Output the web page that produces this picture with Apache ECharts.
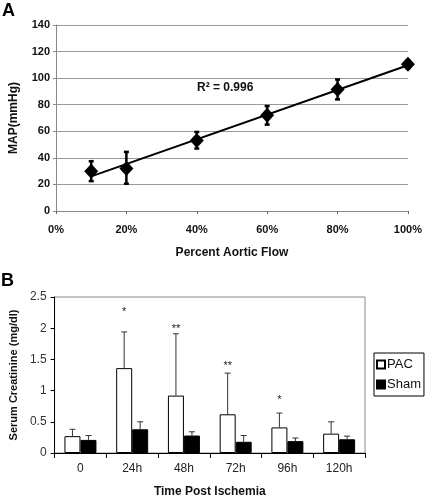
<!DOCTYPE html>
<html><head><meta charset="utf-8">
<script src="https://cdn.jsdelivr.net/npm/echarts@6/dist/echarts.min.js"></script>
<style>html,body{margin:0;padding:0;background:#fff}#c{width:425px;height:499px}</style>
</head><body><div id="c"></div>
<script>
// Panel A data
const aFlow = [10, 20, 40, 60, 80, 100];
const aMap = [30, 32, 53, 72, 91.5, 110.5];
const aErrLow = [22.5, 20.5, 47, 65, 84, 107.5];
const aErrHigh = [37.5, 44.5, 59.5, 79, 99, 113.5];
const aTrend = [[10, 26.1], [100, 109.7]];
const aR2 = 'R² = 0.996';
// Panel B data
const bCats = ['0', '24h', '48h', '72h', '96h', '120h'];
const bPac = [0.27, 1.36, 0.92, 0.62, 0.41, 0.31];
const bPacErr = [0.38, 1.94, 1.91, 1.28, 0.64, 0.50];
const bSham = [0.21, 0.38, 0.28, 0.18, 0.19, 0.22];
const bShamErr = [0.28, 0.50, 0.34, 0.28, 0.24, 0.27];
const bSig = ['', '*', '**', '**', '*', ''];
const bSigY = [null, 2.30, 2.03, 1.44, 0.89, null];

const F = '"Liberation Sans", Arial, sans-serif';
const BAR_W = 16;
const chart = echarts.init(document.getElementById('c'), null, {renderer: 'canvas'});

function aErrRender(params, api) {
  const x = api.value(0);
  const lo = api.coord([x, api.value(1)]);
  const hi = api.coord([x, api.value(2)]);
  const cw = 2.5;
  const st = {stroke: '#000', lineWidth: 2.5};
  return {type: 'group', children: [
    {type: 'line', shape: {x1: lo[0], y1: lo[1], x2: hi[0], y2: hi[1]}, style: st},
    {type: 'line', shape: {x1: lo[0] - cw, y1: lo[1], x2: lo[0] + cw, y2: lo[1]}, style: st},
    {type: 'line', shape: {x1: hi[0] - cw, y1: hi[1], x2: hi[0] + cw, y2: hi[1]}, style: st}
  ]};
}
function bErrRender(off) {
  return function (params, api) {
    const i = api.value(0);
    const base = api.coord([i, api.value(1)]);
    const top = api.coord([i, api.value(2)]);
    const x = base[0] + off;
    const st = {stroke: '#333', lineWidth: 1};
    const ch = [
      {type: 'line', shape: {x1: x, y1: base[1], x2: x, y2: top[1]}, style: st},
      {type: 'line', shape: {x1: x - 3, y1: top[1], x2: x + 3, y2: top[1]}, style: st}
    ];
    const sig = bSig[i];
    if (off < 0 && sig && bSigY[i] != null) {
      const p = api.coord([i, bSigY[i]]);
      ch.push({type: 'text', style: {text: sig, x: x, y: p[1] + 2.5, align: 'center', verticalAlign: 'middle', fontSize: 11, fontFamily: F, fill: '#222'}});
    }
    return {type: 'group', children: ch};
  };
}

const option = {
  animation: false,
  textStyle: {fontFamily: F},
  grid: [
    {left: 50, right: 13, top: 25, bottom: 288},
    {left: 44, right: 60, top: 297, bottom: 43, show: true, borderColor: '#888', borderWidth: 1, backgroundColor: 'transparent'}
  ],
  legend: {
    data: ['PAC', 'Sham'],
    orient: 'vertical', left: 374, top: 353,
    itemWidth: 8, itemHeight: 8, itemGap: 7,
    padding: [5, 3, 5, 2],
    borderColor: '#000', borderWidth: 1,
    textStyle: {fontSize: 13, fontFamily: F, color: '#111', padding: [0, 0, 0, -3]},
    icon: 'rect'
  },
  xAxis: [
    {gridIndex: 0, type: 'value', min: 0, max: 100, interval: 20,
      axisLine: {show: true, lineStyle: {color: '#888'}},
      axisTick: {show: true, length: 3, lineStyle: {color: '#666'}},
      splitLine: {show: false},
      axisLabel: {formatter: '{value}%', fontSize: 11, fontWeight: 'bold', color: '#111', margin: 13, fontFamily: F},
      name: 'Percent Aortic Flow', nameLocation: 'middle', nameGap: 36,
      nameTextStyle: {fontSize: 12, fontWeight: 'bold', color: '#111', fontFamily: F}},
    {gridIndex: 1, type: 'category', data: bCats, boundaryGap: true,
      axisLine: {show: true, lineStyle: {color: '#000'}},
      axisTick: {show: true, length: 5, lineStyle: {color: '#000'}},
      axisLabel: {fontSize: 12, color: '#222', margin: 10, fontFamily: F},
      name: 'Time Post Ischemia', nameLocation: 'middle', nameGap: 33,
      nameTextStyle: {fontSize: 12, fontWeight: 'bold', color: '#111', fontFamily: F}}
  ],
  yAxis: [
    {gridIndex: 0, type: 'value', min: 0, max: 140, interval: 20,
      axisLine: {show: true, lineStyle: {color: '#888'}},
      axisTick: {show: true, length: 3, lineStyle: {color: '#888'}},
      splitLine: {show: true, lineStyle: {color: '#999', width: 1}},
      axisLabel: {fontSize: 11, fontWeight: 'bold', color: '#111', margin: 6, fontFamily: F},
      name: 'MAP(mmHg)', nameLocation: 'middle', nameGap: 36,
      nameTextStyle: {fontSize: 12, fontWeight: 'bold', color: '#111', fontFamily: F}},
    {gridIndex: 1, type: 'value', min: 0, max: 2.5, interval: 0.5,
      axisLine: {show: true, lineStyle: {color: '#000'}},
      axisTick: {show: true, length: 4, lineStyle: {color: '#000'}},
      splitLine: {show: false},
      axisLabel: {fontSize: 12, color: '#333', margin: 8, fontFamily: F},
      name: 'Serum Creatinine (mg/dl)', nameLocation: 'middle', nameGap: 31,
      nameTextStyle: {fontSize: 11, fontWeight: 'bold', color: '#111', fontFamily: F}}
  ],
  graphic: [
    {type: 'text', left: 2, top: 2, style: {text: 'A', fontSize: 18, fontWeight: 'bold', fontFamily: F, fill: '#000'}},
    {type: 'text', left: 1, top: 272, style: {text: 'B', fontSize: 18, fontWeight: 'bold', fontFamily: F, fill: '#000'}},
    {type: 'text', left: 197, top: 82, style: {text: aR2, fontSize: 12, fontWeight: 'bold', fontFamily: F, fill: '#111'}}
  ],
  series: [
    {type: 'line', xAxisIndex: 0, yAxisIndex: 0, data: aTrend, showSymbol: false, symbol: 'none',
      lineStyle: {color: '#000', width: 2}, z: 2},
    {type: 'custom', xAxisIndex: 0, yAxisIndex: 0, renderItem: aErrRender,
      data: aFlow.map((x, i) => [x, aErrLow[i], aErrHigh[i]]), z: 3},
    {type: 'scatter', xAxisIndex: 0, yAxisIndex: 0, symbol: 'diamond', symbolSize: [14, 15],
      itemStyle: {color: '#000', opacity: 1}, data: aFlow.map((x, i) => [x, aMap[i]]), z: 4},
    {name: 'PAC', type: 'bar', xAxisIndex: 1, yAxisIndex: 1, data: bPac, barWidth: BAR_W, barGap: '0%',
      itemStyle: {color: '#fff', borderColor: '#000', borderWidth: 1}},
    {name: 'Sham', type: 'bar', xAxisIndex: 1, yAxisIndex: 1, data: bSham, barWidth: BAR_W, barGap: '0%',
      itemStyle: {color: '#000', borderColor: '#000', borderWidth: 1}},
    {type: 'custom', xAxisIndex: 1, yAxisIndex: 1, renderItem: bErrRender(-BAR_W / 2),
      data: bCats.map((c, i) => [i, bPac[i], bPacErr[i]]), z: 5},
    {type: 'custom', xAxisIndex: 1, yAxisIndex: 1, renderItem: bErrRender(BAR_W / 2),
      data: bCats.map((c, i) => [i, bSham[i], bShamErr[i]]), z: 5}
  ]
};
chart.setOption(option);
</script></body></html>
